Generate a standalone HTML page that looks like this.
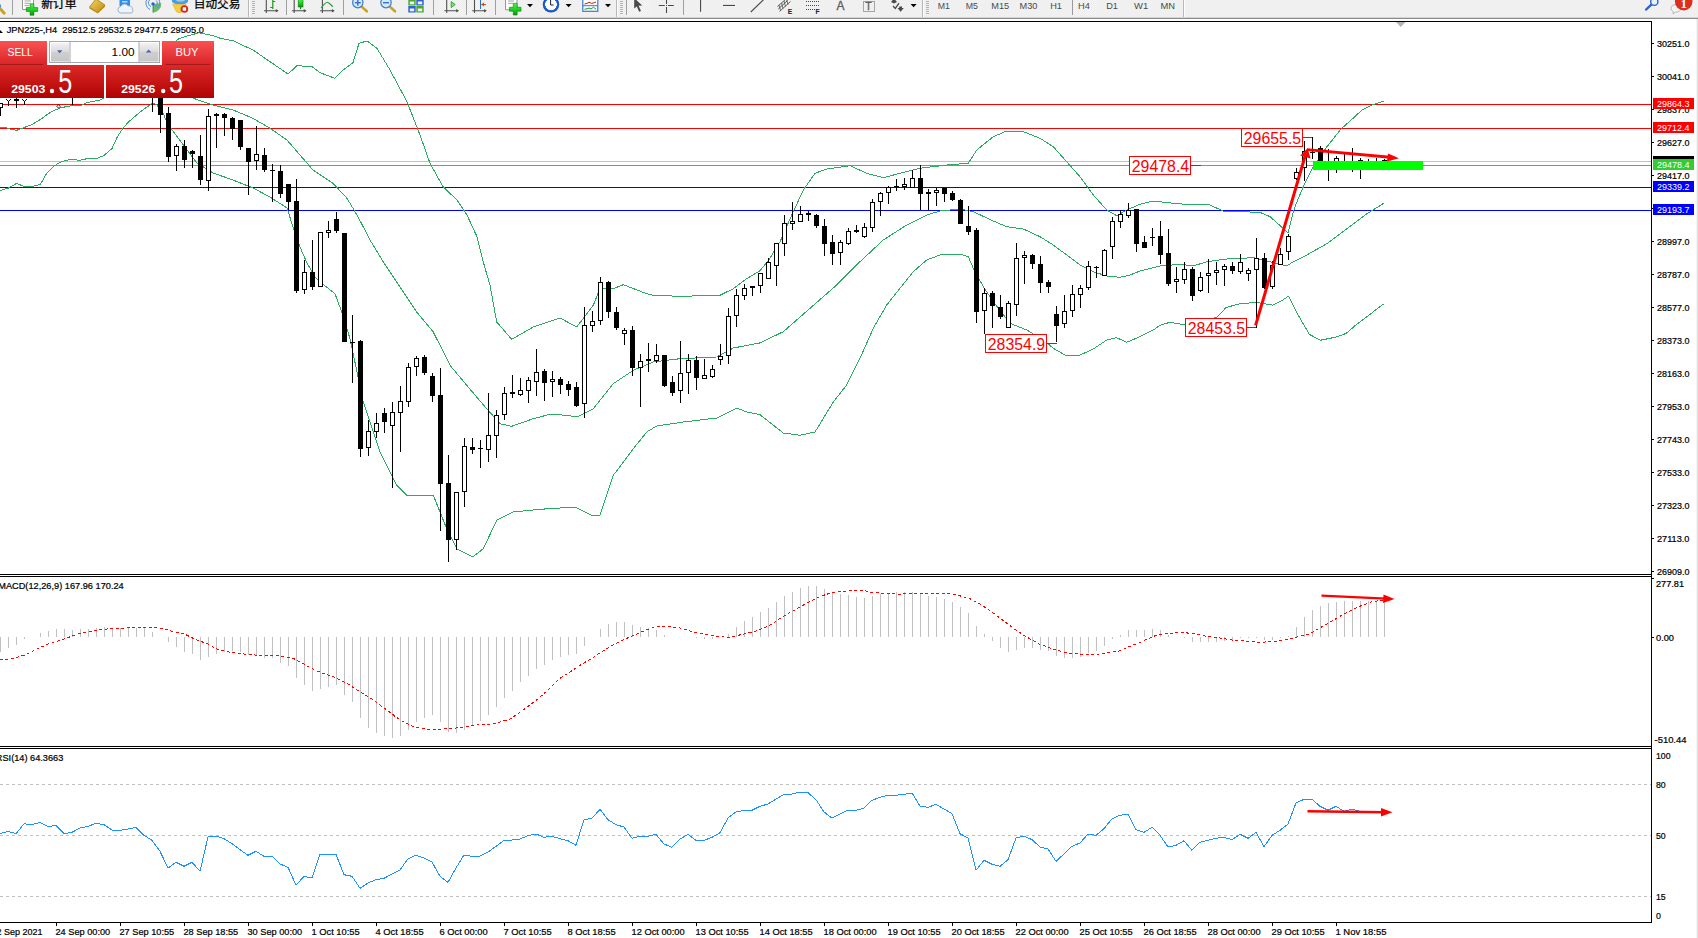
<!DOCTYPE html>
<html lang="zh"><head><meta charset="utf-8"><title>JPN225 H4</title>
<style>html,body{margin:0;padding:0;background:#fff;overflow:hidden}svg{display:block}text{white-space:pre}</style></head>
<body><svg width="1698" height="938" viewBox="0 0 1698 938">
<defs>
<linearGradient id="gBtn" x1="0" y1="0" x2="0" y2="1"><stop offset="0" stop-color="#f95252"/><stop offset="1" stop-color="#d92427"/></linearGradient>
<linearGradient id="gBox" x1="0" y1="0" x2="0" y2="1"><stop offset="0" stop-color="#dc2828"/><stop offset="1" stop-color="#b00303"/></linearGradient>
<linearGradient id="gSpin" x1="0" y1="0" x2="0" y2="1"><stop offset="0" stop-color="#f2f2f2"/><stop offset="0.45" stop-color="#dcdcdc"/><stop offset="0.5" stop-color="#cfcfcf"/><stop offset="1" stop-color="#c6c6c6"/></linearGradient>
<clipPath id="cMain"><rect x="0" y="22" width="1651" height="552"/></clipPath>
<clipPath id="cMacd"><rect x="0" y="577" width="1651" height="169"/></clipPath>
<clipPath id="cRsi"><rect x="0" y="749" width="1651" height="173"/></clipPath>
</defs>
<rect x="0" y="0" width="1698" height="938" fill="#fff" />
<g clip-path="url(#cMain)">
<g shape-rendering="crispEdges">
<rect x="0" y="104" width="1651" height="1" fill="#ff0000" />
<rect x="0" y="128" width="1651" height="1" fill="#ff0000" />
<rect x="0" y="161" width="1651" height="1" fill="#c0c0c0" />
<rect x="0" y="165" width="1651" height="1" fill="#32cd32" />
<rect x="0" y="187" width="1651" height="1" fill="#0000ff" />
<rect x="0" y="210" width="1651" height="1" fill="#0000ff" />
</g>
<polyline points="176.0,41.0 179.0,38.6 189.0,35.5 198.9,32.8 213.0,35.7 220.0,38.2 233.0,40.7 253.0,50.0 270.0,61.7 288.0,74.0 297.0,65.7 312.0,66.7 320.0,72.7 335.0,78.3 343.0,70.0 353.0,62.7 359.0,43.3 367.0,41.0 377.0,48.3 390.0,70.0 407.0,101.7 420.0,135.0 430.0,163.3 443.0,186.7 457.0,200.0 467.0,215.0 477.0,236.7 483.3,262.0 490.0,285.3 496.7,322.0 511.7,339.3 533.3,327.0 560.0,318.0 576.7,327.0 593.3,305.3 600.0,288.7 613.3,288.7 623.3,284.7 646.7,293.7 653.3,295.3 680.0,296.3 720.0,295.3 733.3,288.7 746.7,278.7 760.0,270.8 770.0,258.3 780.0,241.7 793.3,211.7 803.3,190.0 815.0,173.3 826.7,169.0 850.0,165.7 866.7,173.3 883.3,177.7 900.0,173.3 920.0,168.3 946.7,165.0 968.3,163.3 976.7,150.0 993.3,136.7 1006.7,131.0 1023.3,131.7 1040.0,138.3 1053.3,146.7 1066.7,161.7 1080.0,176.7 1093.3,195.0 1106.7,210.0 1116.7,215.7 1126.7,210.0 1140.0,204.3 1153.3,201.0 1173.3,203.3 1193.3,205.0 1209.0,204.6 1223.7,211.2 1260.0,212.3 1270.0,216.7 1282.6,227.9 1288.0,233.0 1293.3,211.7 1297.3,200.9 1304.6,183.7 1312.0,169.0 1326.7,147.0 1341.4,128.6 1351.2,120.0 1362.0,110.0 1372.0,105.0 1383.6,101.0" fill="none" stroke="#2aaa62" stroke-width="1" shape-rendering="crispEdges"/>
<polyline points="0.0,127.2 4.8,127.2 10.7,129.1 16.5,130.4 24.5,127.4 32.0,124.5 40.5,119.5 46.9,114.6 53.3,110.7 59.7,108.2 66.1,106.6 74.6,105.3 82.1,105.0 85.3,103.2 92.8,101.4 99.7,100.0 104.0,98.0" fill="none" stroke="#2aaa62" stroke-width="1" shape-rendering="crispEdges"/>
<polyline points="193.0,98.0 198.0,100.0 213.0,105.0 233.0,110.0 253.0,118.3 270.0,128.3 287.0,140.0 300.0,155.0 313.0,170.0 333.0,183.3 347.0,198.3 358.0,216.7 370.0,240.0 383.3,262.0 400.0,287.0 416.7,312.0 433.3,332.0 450.0,365.3 466.7,385.3 486.7,408.7 500.0,423.7 511.7,426.3 533.3,418.7 550.0,414.3 566.7,415.3 576.7,417.0 593.3,408.7 613.3,383.7 633.3,370.3 653.3,362.0 680.0,358.7 716.7,357.0 733.3,348.0 760.0,342.9 783.3,331.7 810.0,308.3 836.7,285.0 860.0,261.7 883.3,240.0 906.7,225.0 926.7,215.0 940.0,211.0 960.0,209.0 973.3,211.7 993.3,221.0 1006.7,226.7 1023.3,229.0 1040.0,236.7 1053.3,245.0 1066.7,255.0 1080.0,265.0 1093.3,271.7 1106.7,276.0 1120.0,277.3 1130.0,275.0 1140.0,271.0 1160.0,266.0 1180.0,264.3 1193.3,266.0 1206.7,261.7 1226.7,259.0 1253.3,257.7 1270.0,261.7 1283.3,265.0 1287.5,265.4 1293.3,261.7 1307.1,254.8 1326.7,243.8 1346.3,229.1 1365.9,214.4 1383.6,203.4" fill="none" stroke="#2aaa62" stroke-width="1" shape-rendering="crispEdges"/>
<polyline points="0.0,190.6 8.5,188.0 16.5,183.4 24.0,186.4 33.0,186.4 40.5,184.2 46.9,173.0 53.3,166.6 59.7,162.4 66.1,160.2 74.6,159.4 78.9,160.4 87.4,158.6 97.5,158.3 104.0,155.4 112.0,148.5 117.3,136.8 122.6,128.8 128.0,122.4 138.6,113.3 149.3,105.3 152.5,103.2 156.7,104.8 163.1,112.8 165.8,119.7 171.6,129.3 180.0,140.5 187.0,150.0 197.0,163.0 213.0,173.0 233.0,180.0 253.0,188.0 270.0,197.0 287.0,208.0 293.0,227.0 300.0,247.0 307.0,263.0 315.0,277.0 320.0,282.0 335.0,293.7 341.7,312.0 350.0,338.7 363.3,402.0 380.0,452.0 396.7,485.3 406.7,495.3 433.3,495.3 446.7,528.7 456.7,548.7 472.7,557.0 483.3,548.7 496.7,520.3 513.3,512.0 540.0,509.3 575.0,507.0 593.3,516.0 600.0,515.3 613.3,475.3 633.3,448.7 646.7,432.0 656.7,426.0 683.3,422.0 716.7,418.0 736.7,408.0 746.7,412.0 760.0,414.7 783.3,433.0 800.0,435.3 815.0,432.0 833.3,402.0 846.7,385.0 860.0,358.3 873.3,328.3 886.7,305.0 900.0,288.3 913.3,271.7 926.7,260.0 940.0,255.0 960.0,254.0 968.3,256.7 973.3,268.3 983.3,286.7 993.3,301.7 1010.0,323.3 1026.7,330.0 1043.3,340.0 1053.3,348.3 1065.0,355.0 1080.0,355.0 1093.3,349.0 1106.7,340.0 1116.7,337.7 1126.7,342.3 1140.0,336.7 1153.3,330.0 1160.0,325.4 1169.8,322.3 1184.5,324.7 1216.4,317.4 1226.2,307.5 1240.9,303.4 1258.0,302.6 1272.8,305.1 1282.6,300.2 1288.7,296.0 1297.3,313.7 1309.5,334.5 1320.6,340.2 1336.5,337.0 1346.3,333.3 1356.1,324.7 1370.8,313.7 1383.6,303.9" fill="none" stroke="#2aaa62" stroke-width="1" shape-rendering="crispEdges"/>
<g shape-rendering="crispEdges">
<rect x="0" y="103" width="1" height="13" fill="#000" />
<rect x="-2" y="103" width="5" height="5" fill="#000" />
<rect x="-1" y="104" width="3" height="3" fill="#fff" />
<rect x="8" y="101" width="1" height="5" fill="#000" />
<rect x="6" y="99" width="1" height="1" fill="#000" />
<rect x="10" y="99" width="1" height="1" fill="#000" />
<rect x="7" y="100" width="1" height="1" fill="#000" />
<rect x="9" y="100" width="1" height="1" fill="#000" />
<rect x="16" y="98" width="1" height="10" fill="#000" />
<rect x="14" y="99" width="5" height="2" fill="#000" />
<rect x="24" y="101" width="1" height="4" fill="#000" />
<rect x="22" y="99" width="1" height="1" fill="#000" />
<rect x="26" y="99" width="1" height="1" fill="#000" />
<rect x="23" y="100" width="1" height="1" fill="#000" />
<rect x="25" y="100" width="1" height="1" fill="#000" />
<rect x="72" y="98" width="1" height="7" fill="#000" />
<rect x="70" y="90" width="5" height="1" fill="#000" />
<rect x="152" y="98" width="1" height="14" fill="#000" />
<rect x="150" y="90" width="5" height="1" fill="#000" />
<rect x="160" y="90" width="1" height="43" fill="#000" />
<rect x="158" y="90" width="5" height="25" fill="#000" />
<rect x="168" y="107" width="1" height="55" fill="#000" />
<rect x="166" y="113" width="5" height="44" fill="#000" />
<rect x="176" y="144" width="1" height="27" fill="#000" />
<rect x="174" y="146" width="5" height="10" fill="#000" />
<rect x="175" y="147" width="3" height="8" fill="#fff" />
<rect x="184" y="140" width="1" height="28" fill="#000" />
<rect x="182" y="146" width="5" height="14" fill="#000" />
<rect x="192" y="150" width="1" height="18" fill="#000" />
<rect x="190" y="151" width="5" height="3" fill="#000" />
<rect x="200" y="135" width="1" height="50" fill="#000" />
<rect x="198" y="156" width="5" height="24" fill="#000" />
<rect x="208" y="109" width="1" height="82" fill="#000" />
<rect x="206" y="116" width="5" height="65" fill="#000" />
<rect x="207" y="117" width="3" height="63" fill="#fff" />
<rect x="216" y="113" width="1" height="35" fill="#000" />
<rect x="214" y="114" width="5" height="2" fill="#000" />
<rect x="224" y="113" width="1" height="23" fill="#000" />
<rect x="222" y="114" width="5" height="4" fill="#000" />
<rect x="232" y="117" width="1" height="23" fill="#000" />
<rect x="230" y="118" width="5" height="11" fill="#000" />
<rect x="240" y="120" width="1" height="30" fill="#000" />
<rect x="238" y="120" width="5" height="27" fill="#000" />
<rect x="248" y="148" width="1" height="47" fill="#000" />
<rect x="246" y="148" width="5" height="14" fill="#000" />
<rect x="256" y="126" width="1" height="44" fill="#000" />
<rect x="254" y="154" width="5" height="7" fill="#000" />
<rect x="255" y="155" width="3" height="5" fill="#fff" />
<rect x="264" y="148" width="1" height="24" fill="#000" />
<rect x="262" y="155" width="5" height="15" fill="#000" />
<rect x="272" y="164" width="1" height="38" fill="#000" />
<rect x="270" y="170" width="5" height="1" fill="#000" />
<rect x="280" y="165" width="1" height="33" fill="#000" />
<rect x="278" y="171" width="5" height="23" fill="#000" />
<rect x="288" y="184" width="1" height="26" fill="#000" />
<rect x="286" y="184" width="5" height="18" fill="#000" />
<rect x="296" y="179" width="1" height="114" fill="#000" />
<rect x="294" y="201" width="5" height="90" fill="#000" />
<rect x="304" y="260" width="1" height="34" fill="#000" />
<rect x="302" y="272" width="5" height="18" fill="#000" />
<rect x="303" y="273" width="3" height="16" fill="#fff" />
<rect x="312" y="240" width="1" height="50" fill="#000" />
<rect x="310" y="272" width="5" height="15" fill="#000" />
<rect x="320" y="232" width="1" height="55" fill="#000" />
<rect x="318" y="232" width="5" height="55" fill="#000" />
<rect x="319" y="233" width="3" height="53" fill="#fff" />
<rect x="328" y="221" width="1" height="17" fill="#000" />
<rect x="326" y="230" width="5" height="3" fill="#000" />
<rect x="327" y="231" width="3" height="1" fill="#fff" />
<rect x="336" y="212" width="1" height="21" fill="#000" />
<rect x="334" y="219" width="5" height="12" fill="#000" />
<rect x="344" y="233" width="1" height="109" fill="#000" />
<rect x="342" y="233" width="5" height="109" fill="#000" />
<rect x="352" y="315" width="1" height="68" fill="#000" />
<rect x="350" y="342" width="5" height="1" fill="#000" />
<rect x="360" y="340" width="1" height="117" fill="#000" />
<rect x="358" y="341" width="5" height="108" fill="#000" />
<rect x="368" y="420" width="1" height="36" fill="#000" />
<rect x="366" y="431" width="5" height="17" fill="#000" />
<rect x="367" y="432" width="3" height="15" fill="#fff" />
<rect x="376" y="413" width="1" height="25" fill="#000" />
<rect x="374" y="423" width="5" height="9" fill="#000" />
<rect x="375" y="424" width="3" height="7" fill="#fff" />
<rect x="384" y="408" width="1" height="25" fill="#000" />
<rect x="382" y="413" width="5" height="9" fill="#000" />
<rect x="392" y="402" width="1" height="86" fill="#000" />
<rect x="390" y="412" width="5" height="14" fill="#000" />
<rect x="391" y="413" width="3" height="12" fill="#fff" />
<rect x="400" y="386" width="1" height="66" fill="#000" />
<rect x="398" y="401" width="5" height="12" fill="#000" />
<rect x="399" y="402" width="3" height="10" fill="#fff" />
<rect x="408" y="363" width="1" height="44" fill="#000" />
<rect x="406" y="367" width="5" height="35" fill="#000" />
<rect x="407" y="368" width="3" height="33" fill="#fff" />
<rect x="416" y="356" width="1" height="20" fill="#000" />
<rect x="414" y="358" width="5" height="9" fill="#000" />
<rect x="415" y="359" width="3" height="7" fill="#fff" />
<rect x="424" y="355" width="1" height="20" fill="#000" />
<rect x="422" y="357" width="5" height="16" fill="#000" />
<rect x="432" y="373" width="1" height="29" fill="#000" />
<rect x="430" y="376" width="5" height="20" fill="#000" />
<rect x="440" y="368" width="1" height="163" fill="#000" />
<rect x="438" y="395" width="5" height="89" fill="#000" />
<rect x="448" y="455" width="1" height="107" fill="#000" />
<rect x="446" y="483" width="5" height="57" fill="#000" />
<rect x="456" y="492" width="1" height="58" fill="#000" />
<rect x="454" y="492" width="5" height="48" fill="#000" />
<rect x="455" y="493" width="3" height="46" fill="#fff" />
<rect x="464" y="438" width="1" height="69" fill="#000" />
<rect x="462" y="446" width="5" height="46" fill="#000" />
<rect x="463" y="447" width="3" height="44" fill="#fff" />
<rect x="472" y="438" width="1" height="16" fill="#000" />
<rect x="470" y="447" width="5" height="3" fill="#000" />
<rect x="480" y="440" width="1" height="28" fill="#000" />
<rect x="478" y="448" width="5" height="1" fill="#000" />
<rect x="488" y="393" width="1" height="69" fill="#000" />
<rect x="486" y="435" width="5" height="15" fill="#000" />
<rect x="487" y="436" width="3" height="13" fill="#fff" />
<rect x="496" y="410" width="1" height="48" fill="#000" />
<rect x="494" y="415" width="5" height="21" fill="#000" />
<rect x="495" y="416" width="3" height="19" fill="#fff" />
<rect x="504" y="387" width="1" height="33" fill="#000" />
<rect x="502" y="393" width="5" height="22" fill="#000" />
<rect x="503" y="394" width="3" height="20" fill="#fff" />
<rect x="512" y="375" width="1" height="23" fill="#000" />
<rect x="510" y="392" width="5" height="2" fill="#000" />
<rect x="520" y="378" width="1" height="18" fill="#000" />
<rect x="518" y="390" width="5" height="5" fill="#000" />
<rect x="519" y="391" width="3" height="3" fill="#fff" />
<rect x="528" y="377" width="1" height="26" fill="#000" />
<rect x="526" y="380" width="5" height="11" fill="#000" />
<rect x="527" y="381" width="3" height="9" fill="#fff" />
<rect x="536" y="349" width="1" height="47" fill="#000" />
<rect x="534" y="372" width="5" height="10" fill="#000" />
<rect x="535" y="373" width="3" height="8" fill="#fff" />
<rect x="544" y="369" width="1" height="32" fill="#000" />
<rect x="542" y="371" width="5" height="12" fill="#000" />
<rect x="552" y="371" width="1" height="26" fill="#000" />
<rect x="550" y="379" width="5" height="3" fill="#000" />
<rect x="551" y="380" width="3" height="1" fill="#fff" />
<rect x="560" y="377" width="1" height="17" fill="#000" />
<rect x="558" y="379" width="5" height="6" fill="#000" />
<rect x="568" y="381" width="1" height="15" fill="#000" />
<rect x="566" y="384" width="5" height="6" fill="#000" />
<rect x="576" y="382" width="1" height="25" fill="#000" />
<rect x="574" y="387" width="5" height="19" fill="#000" />
<rect x="584" y="307" width="1" height="111" fill="#000" />
<rect x="582" y="325" width="5" height="79" fill="#000" />
<rect x="583" y="326" width="3" height="77" fill="#fff" />
<rect x="592" y="311" width="1" height="21" fill="#000" />
<rect x="590" y="321" width="5" height="5" fill="#000" />
<rect x="591" y="322" width="3" height="3" fill="#fff" />
<rect x="600" y="277" width="1" height="48" fill="#000" />
<rect x="598" y="282" width="5" height="39" fill="#000" />
<rect x="599" y="283" width="3" height="37" fill="#fff" />
<rect x="608" y="281" width="1" height="37" fill="#000" />
<rect x="606" y="282" width="5" height="30" fill="#000" />
<rect x="616" y="307" width="1" height="23" fill="#000" />
<rect x="614" y="312" width="5" height="16" fill="#000" />
<rect x="624" y="328" width="1" height="17" fill="#000" />
<rect x="622" y="330" width="5" height="4" fill="#000" />
<rect x="623" y="331" width="3" height="2" fill="#fff" />
<rect x="632" y="326" width="1" height="50" fill="#000" />
<rect x="630" y="330" width="5" height="38" fill="#000" />
<rect x="640" y="354" width="1" height="53" fill="#000" />
<rect x="638" y="361" width="5" height="7" fill="#000" />
<rect x="639" y="362" width="3" height="5" fill="#fff" />
<rect x="648" y="343" width="1" height="29" fill="#000" />
<rect x="646" y="359" width="5" height="2" fill="#000" />
<rect x="656" y="344" width="1" height="19" fill="#000" />
<rect x="654" y="355" width="5" height="6" fill="#000" />
<rect x="655" y="356" width="3" height="4" fill="#fff" />
<rect x="664" y="355" width="1" height="32" fill="#000" />
<rect x="662" y="355" width="5" height="31" fill="#000" />
<rect x="672" y="376" width="1" height="20" fill="#000" />
<rect x="670" y="382" width="5" height="11" fill="#000" />
<rect x="680" y="341" width="1" height="62" fill="#000" />
<rect x="678" y="373" width="5" height="18" fill="#000" />
<rect x="679" y="374" width="3" height="16" fill="#fff" />
<rect x="688" y="354" width="1" height="40" fill="#000" />
<rect x="686" y="360" width="5" height="13" fill="#000" />
<rect x="687" y="361" width="3" height="11" fill="#fff" />
<rect x="696" y="356" width="1" height="34" fill="#000" />
<rect x="694" y="360" width="5" height="18" fill="#000" />
<rect x="704" y="359" width="1" height="20" fill="#000" />
<rect x="702" y="375" width="5" height="4" fill="#000" />
<rect x="703" y="376" width="3" height="2" fill="#fff" />
<rect x="712" y="365" width="1" height="13" fill="#000" />
<rect x="710" y="369" width="5" height="8" fill="#000" />
<rect x="711" y="370" width="3" height="6" fill="#fff" />
<rect x="720" y="344" width="1" height="21" fill="#000" />
<rect x="718" y="356" width="5" height="4" fill="#000" />
<rect x="719" y="357" width="3" height="2" fill="#fff" />
<rect x="728" y="308" width="1" height="56" fill="#000" />
<rect x="726" y="316" width="5" height="40" fill="#000" />
<rect x="727" y="317" width="3" height="38" fill="#fff" />
<rect x="736" y="289" width="1" height="38" fill="#000" />
<rect x="734" y="295" width="5" height="21" fill="#000" />
<rect x="735" y="296" width="3" height="19" fill="#fff" />
<rect x="744" y="284" width="1" height="16" fill="#000" />
<rect x="742" y="288" width="5" height="8" fill="#000" />
<rect x="743" y="289" width="3" height="6" fill="#fff" />
<rect x="752" y="286" width="1" height="10" fill="#000" />
<rect x="750" y="286" width="5" height="2" fill="#000" />
<rect x="760" y="273" width="1" height="20" fill="#000" />
<rect x="758" y="273" width="5" height="13" fill="#000" />
<rect x="759" y="274" width="3" height="11" fill="#fff" />
<rect x="768" y="258" width="1" height="21" fill="#000" />
<rect x="766" y="262" width="5" height="17" fill="#000" />
<rect x="767" y="263" width="3" height="15" fill="#fff" />
<rect x="776" y="243" width="1" height="43" fill="#000" />
<rect x="774" y="243" width="5" height="23" fill="#000" />
<rect x="775" y="244" width="3" height="21" fill="#fff" />
<rect x="784" y="215" width="1" height="41" fill="#000" />
<rect x="782" y="223" width="5" height="21" fill="#000" />
<rect x="783" y="224" width="3" height="19" fill="#fff" />
<rect x="792" y="202" width="1" height="28" fill="#000" />
<rect x="790" y="221" width="5" height="3" fill="#000" />
<rect x="791" y="222" width="3" height="1" fill="#fff" />
<rect x="800" y="206" width="1" height="16" fill="#000" />
<rect x="798" y="214" width="5" height="8" fill="#000" />
<rect x="799" y="215" width="3" height="6" fill="#fff" />
<rect x="808" y="211" width="1" height="10" fill="#000" />
<rect x="806" y="213" width="5" height="2" fill="#000" />
<rect x="816" y="214" width="1" height="14" fill="#000" />
<rect x="814" y="215" width="5" height="11" fill="#000" />
<rect x="824" y="219" width="1" height="37" fill="#000" />
<rect x="822" y="226" width="5" height="18" fill="#000" />
<rect x="832" y="235" width="1" height="30" fill="#000" />
<rect x="830" y="242" width="5" height="12" fill="#000" />
<rect x="840" y="240" width="1" height="25" fill="#000" />
<rect x="838" y="242" width="5" height="11" fill="#000" />
<rect x="839" y="243" width="3" height="9" fill="#fff" />
<rect x="848" y="228" width="1" height="17" fill="#000" />
<rect x="846" y="231" width="5" height="13" fill="#000" />
<rect x="847" y="232" width="3" height="11" fill="#fff" />
<rect x="856" y="225" width="1" height="8" fill="#000" />
<rect x="854" y="230" width="5" height="2" fill="#000" />
<rect x="864" y="223" width="1" height="15" fill="#000" />
<rect x="862" y="227" width="5" height="10" fill="#000" />
<rect x="863" y="228" width="3" height="8" fill="#fff" />
<rect x="872" y="199" width="1" height="33" fill="#000" />
<rect x="870" y="202" width="5" height="26" fill="#000" />
<rect x="871" y="203" width="3" height="24" fill="#fff" />
<rect x="880" y="192" width="1" height="24" fill="#000" />
<rect x="878" y="193" width="5" height="9" fill="#000" />
<rect x="879" y="194" width="3" height="7" fill="#fff" />
<rect x="888" y="186" width="1" height="18" fill="#000" />
<rect x="886" y="187" width="5" height="6" fill="#000" />
<rect x="887" y="188" width="3" height="4" fill="#fff" />
<rect x="896" y="179" width="1" height="12" fill="#000" />
<rect x="894" y="186" width="5" height="1" fill="#000" />
<rect x="904" y="178" width="1" height="12" fill="#000" />
<rect x="902" y="184" width="5" height="3" fill="#000" />
<rect x="903" y="185" width="3" height="1" fill="#fff" />
<rect x="912" y="170" width="1" height="18" fill="#000" />
<rect x="910" y="178" width="5" height="10" fill="#000" />
<rect x="911" y="179" width="3" height="8" fill="#fff" />
<rect x="920" y="165" width="1" height="45" fill="#000" />
<rect x="918" y="178" width="5" height="16" fill="#000" />
<rect x="928" y="189" width="1" height="21" fill="#000" />
<rect x="926" y="192" width="5" height="2" fill="#000" />
<rect x="936" y="188" width="1" height="18" fill="#000" />
<rect x="934" y="190" width="5" height="3" fill="#000" />
<rect x="935" y="191" width="3" height="1" fill="#fff" />
<rect x="944" y="188" width="1" height="14" fill="#000" />
<rect x="942" y="188" width="5" height="6" fill="#000" />
<rect x="952" y="191" width="1" height="10" fill="#000" />
<rect x="950" y="193" width="5" height="7" fill="#000" />
<rect x="960" y="199" width="1" height="25" fill="#000" />
<rect x="958" y="200" width="5" height="24" fill="#000" />
<rect x="968" y="206" width="1" height="29" fill="#000" />
<rect x="966" y="226" width="5" height="6" fill="#000" />
<rect x="976" y="228" width="1" height="95" fill="#000" />
<rect x="974" y="230" width="5" height="82" fill="#000" />
<rect x="984" y="288" width="1" height="46" fill="#000" />
<rect x="982" y="293" width="5" height="18" fill="#000" />
<rect x="983" y="294" width="3" height="16" fill="#fff" />
<rect x="992" y="291" width="1" height="37" fill="#000" />
<rect x="990" y="293" width="5" height="13" fill="#000" />
<rect x="1000" y="295" width="1" height="24" fill="#000" />
<rect x="998" y="307" width="5" height="10" fill="#000" />
<rect x="1008" y="301" width="1" height="27" fill="#000" />
<rect x="1006" y="303" width="5" height="25" fill="#000" />
<rect x="1007" y="304" width="3" height="23" fill="#fff" />
<rect x="1016" y="243" width="1" height="73" fill="#000" />
<rect x="1014" y="258" width="5" height="47" fill="#000" />
<rect x="1015" y="259" width="3" height="45" fill="#fff" />
<rect x="1024" y="251" width="1" height="33" fill="#000" />
<rect x="1022" y="255" width="5" height="3" fill="#000" />
<rect x="1023" y="256" width="3" height="1" fill="#fff" />
<rect x="1032" y="254" width="1" height="15" fill="#000" />
<rect x="1030" y="255" width="5" height="9" fill="#000" />
<rect x="1040" y="256" width="1" height="37" fill="#000" />
<rect x="1038" y="264" width="5" height="19" fill="#000" />
<rect x="1048" y="280" width="1" height="13" fill="#000" />
<rect x="1046" y="282" width="5" height="5" fill="#000" />
<rect x="1056" y="306" width="1" height="36" fill="#000" />
<rect x="1054" y="314" width="5" height="12" fill="#000" />
<rect x="1064" y="295" width="1" height="33" fill="#000" />
<rect x="1062" y="311" width="5" height="13" fill="#000" />
<rect x="1063" y="312" width="3" height="11" fill="#fff" />
<rect x="1072" y="285" width="1" height="32" fill="#000" />
<rect x="1070" y="294" width="5" height="17" fill="#000" />
<rect x="1071" y="295" width="3" height="15" fill="#fff" />
<rect x="1080" y="285" width="1" height="23" fill="#000" />
<rect x="1078" y="288" width="5" height="7" fill="#000" />
<rect x="1079" y="289" width="3" height="5" fill="#fff" />
<rect x="1088" y="261" width="1" height="29" fill="#000" />
<rect x="1086" y="266" width="5" height="22" fill="#000" />
<rect x="1087" y="267" width="3" height="20" fill="#fff" />
<rect x="1096" y="266" width="1" height="12" fill="#000" />
<rect x="1094" y="267" width="5" height="1" fill="#000" />
<rect x="1104" y="249" width="1" height="27" fill="#000" />
<rect x="1102" y="250" width="5" height="26" fill="#000" />
<rect x="1103" y="251" width="3" height="24" fill="#fff" />
<rect x="1112" y="217" width="1" height="42" fill="#000" />
<rect x="1110" y="221" width="5" height="26" fill="#000" />
<rect x="1111" y="222" width="3" height="24" fill="#fff" />
<rect x="1120" y="210" width="1" height="18" fill="#000" />
<rect x="1118" y="214" width="5" height="8" fill="#000" />
<rect x="1119" y="215" width="3" height="6" fill="#fff" />
<rect x="1128" y="203" width="1" height="15" fill="#000" />
<rect x="1126" y="210" width="5" height="6" fill="#000" />
<rect x="1127" y="211" width="3" height="4" fill="#fff" />
<rect x="1136" y="209" width="1" height="43" fill="#000" />
<rect x="1134" y="209" width="5" height="35" fill="#000" />
<rect x="1144" y="236" width="1" height="12" fill="#000" />
<rect x="1142" y="242" width="5" height="6" fill="#000" />
<rect x="1152" y="228" width="1" height="18" fill="#000" />
<rect x="1150" y="237" width="5" height="1" fill="#000" />
<rect x="1160" y="221" width="1" height="43" fill="#000" />
<rect x="1158" y="236" width="5" height="19" fill="#000" />
<rect x="1168" y="229" width="1" height="57" fill="#000" />
<rect x="1166" y="253" width="5" height="31" fill="#000" />
<rect x="1176" y="267" width="1" height="26" fill="#000" />
<rect x="1174" y="279" width="5" height="3" fill="#000" />
<rect x="1175" y="280" width="3" height="1" fill="#fff" />
<rect x="1184" y="262" width="1" height="22" fill="#000" />
<rect x="1182" y="269" width="5" height="11" fill="#000" />
<rect x="1183" y="270" width="3" height="9" fill="#fff" />
<rect x="1192" y="267" width="1" height="34" fill="#000" />
<rect x="1190" y="269" width="5" height="27" fill="#000" />
<rect x="1200" y="272" width="1" height="20" fill="#000" />
<rect x="1198" y="277" width="5" height="14" fill="#000" />
<rect x="1199" y="278" width="3" height="12" fill="#fff" />
<rect x="1208" y="259" width="1" height="34" fill="#000" />
<rect x="1206" y="273" width="5" height="3" fill="#000" />
<rect x="1207" y="274" width="3" height="1" fill="#fff" />
<rect x="1216" y="262" width="1" height="23" fill="#000" />
<rect x="1214" y="270" width="5" height="3" fill="#000" />
<rect x="1215" y="271" width="3" height="1" fill="#fff" />
<rect x="1224" y="264" width="1" height="22" fill="#000" />
<rect x="1222" y="266" width="5" height="4" fill="#000" />
<rect x="1223" y="267" width="3" height="2" fill="#fff" />
<rect x="1232" y="262" width="1" height="12" fill="#000" />
<rect x="1230" y="266" width="5" height="5" fill="#000" />
<rect x="1240" y="254" width="1" height="20" fill="#000" />
<rect x="1238" y="262" width="5" height="10" fill="#000" />
<rect x="1239" y="263" width="3" height="8" fill="#fff" />
<rect x="1248" y="268" width="1" height="13" fill="#000" />
<rect x="1246" y="270" width="5" height="4" fill="#000" />
<rect x="1247" y="271" width="3" height="2" fill="#fff" />
<rect x="1256" y="238" width="1" height="90" fill="#000" />
<rect x="1254" y="258" width="5" height="12" fill="#000" />
<rect x="1255" y="259" width="3" height="10" fill="#fff" />
<rect x="1264" y="253" width="1" height="36" fill="#000" />
<rect x="1262" y="258" width="5" height="30" fill="#000" />
<rect x="1272" y="261" width="1" height="28" fill="#000" />
<rect x="1270" y="265" width="5" height="22" fill="#000" />
<rect x="1271" y="266" width="3" height="20" fill="#fff" />
<rect x="1280" y="248" width="1" height="17" fill="#000" />
<rect x="1278" y="254" width="5" height="11" fill="#000" />
<rect x="1279" y="255" width="3" height="9" fill="#fff" />
<rect x="1288" y="234" width="1" height="26" fill="#000" />
<rect x="1286" y="236" width="5" height="16" fill="#000" />
<rect x="1287" y="237" width="3" height="14" fill="#fff" />
<rect x="1296" y="168" width="1" height="12" fill="#000" />
<rect x="1294" y="172" width="5" height="7" fill="#000" />
<rect x="1295" y="173" width="3" height="5" fill="#fff" />
<rect x="1304" y="141" width="1" height="40" fill="#000" />
<rect x="1302" y="151" width="5" height="17" fill="#000" />
<rect x="1303" y="152" width="3" height="15" fill="#fff" />
<rect x="1312" y="137" width="1" height="22" fill="#000" />
<rect x="1310" y="152" width="5" height="1" fill="#000" />
<rect x="1320" y="146" width="1" height="23" fill="#000" />
<rect x="1318" y="148" width="5" height="18" fill="#000" />
<rect x="1328" y="149" width="1" height="32" fill="#000" />
<rect x="1326" y="164" width="5" height="1" fill="#000" />
<rect x="1336" y="156" width="1" height="17" fill="#000" />
<rect x="1334" y="158" width="5" height="6" fill="#000" />
<rect x="1335" y="159" width="3" height="4" fill="#fff" />
<rect x="1344" y="152" width="1" height="17" fill="#000" />
<rect x="1342" y="163" width="5" height="1" fill="#000" />
<rect x="1352" y="148" width="1" height="24" fill="#000" />
<rect x="1350" y="164" width="5" height="1" fill="#000" />
<rect x="1360" y="158" width="1" height="21" fill="#000" />
<rect x="1358" y="160" width="5" height="1" fill="#000" />
<rect x="1368" y="159" width="1" height="7" fill="#000" />
<rect x="1366" y="163" width="5" height="1" fill="#000" />
<rect x="1376" y="158" width="1" height="7" fill="#000" />
<rect x="1374" y="163" width="5" height="1" fill="#000" />
<rect x="1384" y="159" width="1" height="4" fill="#000" />
<rect x="1382" y="160" width="5" height="1" fill="#000" />
</g>
<path d="M58.5,104.6 L60.2,106.4 L58.5,108.2 L56.8,106.4 Z" fill="none" stroke="#000" stroke-width="0.8"/>
</g>
<g clip-path="url(#cMacd)">
<g shape-rendering="crispEdges">
<rect x="0" y="637" width="1" height="15" fill="#c0c0c0" />
<rect x="8" y="637" width="1" height="11" fill="#c0c0c0" />
<rect x="16" y="637" width="1" height="8" fill="#c0c0c0" />
<rect x="24" y="637" width="1" height="2" fill="#c0c0c0" />
<rect x="40" y="633" width="1" height="4" fill="#c0c0c0" />
<rect x="48" y="631" width="1" height="6" fill="#c0c0c0" />
<rect x="56" y="629" width="1" height="8" fill="#c0c0c0" />
<rect x="64" y="629" width="1" height="8" fill="#c0c0c0" />
<rect x="72" y="630" width="1" height="7" fill="#c0c0c0" />
<rect x="80" y="629" width="1" height="8" fill="#c0c0c0" />
<rect x="88" y="629" width="1" height="8" fill="#c0c0c0" />
<rect x="96" y="628" width="1" height="9" fill="#c0c0c0" />
<rect x="104" y="627" width="1" height="10" fill="#c0c0c0" />
<rect x="112" y="628" width="1" height="9" fill="#c0c0c0" />
<rect x="120" y="628" width="1" height="9" fill="#c0c0c0" />
<rect x="128" y="628" width="1" height="9" fill="#c0c0c0" />
<rect x="136" y="628" width="1" height="9" fill="#c0c0c0" />
<rect x="144" y="628" width="1" height="9" fill="#c0c0c0" />
<rect x="152" y="632" width="1" height="5" fill="#c0c0c0" />
<rect x="168" y="637" width="1" height="5" fill="#c0c0c0" />
<rect x="176" y="637" width="1" height="10" fill="#c0c0c0" />
<rect x="184" y="637" width="1" height="15" fill="#c0c0c0" />
<rect x="192" y="637" width="1" height="17" fill="#c0c0c0" />
<rect x="200" y="637" width="1" height="23" fill="#c0c0c0" />
<rect x="208" y="637" width="1" height="20" fill="#c0c0c0" />
<rect x="216" y="637" width="1" height="17" fill="#c0c0c0" />
<rect x="224" y="637" width="1" height="15" fill="#c0c0c0" />
<rect x="232" y="637" width="1" height="14" fill="#c0c0c0" />
<rect x="240" y="637" width="1" height="15" fill="#c0c0c0" />
<rect x="248" y="637" width="1" height="18" fill="#c0c0c0" />
<rect x="256" y="637" width="1" height="19" fill="#c0c0c0" />
<rect x="264" y="637" width="1" height="21" fill="#c0c0c0" />
<rect x="272" y="637" width="1" height="21" fill="#c0c0c0" />
<rect x="280" y="637" width="1" height="26" fill="#c0c0c0" />
<rect x="288" y="637" width="1" height="29" fill="#c0c0c0" />
<rect x="296" y="637" width="1" height="41" fill="#c0c0c0" />
<rect x="304" y="637" width="1" height="48" fill="#c0c0c0" />
<rect x="312" y="637" width="1" height="54" fill="#c0c0c0" />
<rect x="320" y="637" width="1" height="52" fill="#c0c0c0" />
<rect x="328" y="637" width="1" height="50" fill="#c0c0c0" />
<rect x="336" y="637" width="1" height="48" fill="#c0c0c0" />
<rect x="344" y="637" width="1" height="58" fill="#c0c0c0" />
<rect x="352" y="637" width="1" height="65" fill="#c0c0c0" />
<rect x="360" y="637" width="1" height="81" fill="#c0c0c0" />
<rect x="368" y="637" width="1" height="91" fill="#c0c0c0" />
<rect x="376" y="637" width="1" height="96" fill="#c0c0c0" />
<rect x="384" y="637" width="1" height="99" fill="#c0c0c0" />
<rect x="392" y="637" width="1" height="101" fill="#c0c0c0" />
<rect x="400" y="637" width="1" height="99" fill="#c0c0c0" />
<rect x="408" y="637" width="1" height="93" fill="#c0c0c0" />
<rect x="416" y="637" width="1" height="85" fill="#c0c0c0" />
<rect x="424" y="637" width="1" height="81" fill="#c0c0c0" />
<rect x="432" y="637" width="1" height="78" fill="#c0c0c0" />
<rect x="440" y="637" width="1" height="85" fill="#c0c0c0" />
<rect x="448" y="637" width="1" height="95" fill="#c0c0c0" />
<rect x="456" y="637" width="1" height="96" fill="#c0c0c0" />
<rect x="464" y="637" width="1" height="93" fill="#c0c0c0" />
<rect x="472" y="637" width="1" height="88" fill="#c0c0c0" />
<rect x="480" y="637" width="1" height="84" fill="#c0c0c0" />
<rect x="488" y="637" width="1" height="78" fill="#c0c0c0" />
<rect x="496" y="637" width="1" height="70" fill="#c0c0c0" />
<rect x="504" y="637" width="1" height="61" fill="#c0c0c0" />
<rect x="512" y="637" width="1" height="54" fill="#c0c0c0" />
<rect x="520" y="637" width="1" height="45" fill="#c0c0c0" />
<rect x="528" y="637" width="1" height="39" fill="#c0c0c0" />
<rect x="536" y="637" width="1" height="32" fill="#c0c0c0" />
<rect x="544" y="637" width="1" height="28" fill="#c0c0c0" />
<rect x="552" y="637" width="1" height="23" fill="#c0c0c0" />
<rect x="560" y="637" width="1" height="20" fill="#c0c0c0" />
<rect x="568" y="637" width="1" height="18" fill="#c0c0c0" />
<rect x="576" y="637" width="1" height="17" fill="#c0c0c0" />
<rect x="584" y="637" width="1" height="9" fill="#c0c0c0" />
<rect x="600" y="629" width="1" height="8" fill="#c0c0c0" />
<rect x="608" y="624" width="1" height="13" fill="#c0c0c0" />
<rect x="616" y="622" width="1" height="15" fill="#c0c0c0" />
<rect x="624" y="622" width="1" height="15" fill="#c0c0c0" />
<rect x="632" y="625" width="1" height="12" fill="#c0c0c0" />
<rect x="640" y="627" width="1" height="10" fill="#c0c0c0" />
<rect x="648" y="628" width="1" height="9" fill="#c0c0c0" />
<rect x="656" y="630" width="1" height="7" fill="#c0c0c0" />
<rect x="664" y="635" width="1" height="2" fill="#c0c0c0" />
<rect x="696" y="637" width="1" height="1" fill="#c0c0c0" />
<rect x="704" y="637" width="1" height="2" fill="#c0c0c0" />
<rect x="712" y="637" width="1" height="2" fill="#c0c0c0" />
<rect x="728" y="634" width="1" height="3" fill="#c0c0c0" />
<rect x="736" y="627" width="1" height="10" fill="#c0c0c0" />
<rect x="744" y="621" width="1" height="16" fill="#c0c0c0" />
<rect x="752" y="617" width="1" height="20" fill="#c0c0c0" />
<rect x="760" y="612" width="1" height="25" fill="#c0c0c0" />
<rect x="768" y="608" width="1" height="29" fill="#c0c0c0" />
<rect x="776" y="602" width="1" height="35" fill="#c0c0c0" />
<rect x="784" y="596" width="1" height="41" fill="#c0c0c0" />
<rect x="792" y="592" width="1" height="45" fill="#c0c0c0" />
<rect x="800" y="588" width="1" height="49" fill="#c0c0c0" />
<rect x="808" y="586" width="1" height="51" fill="#c0c0c0" />
<rect x="816" y="586" width="1" height="51" fill="#c0c0c0" />
<rect x="824" y="589" width="1" height="48" fill="#c0c0c0" />
<rect x="832" y="593" width="1" height="44" fill="#c0c0c0" />
<rect x="840" y="594" width="1" height="43" fill="#c0c0c0" />
<rect x="848" y="595" width="1" height="42" fill="#c0c0c0" />
<rect x="856" y="597" width="1" height="40" fill="#c0c0c0" />
<rect x="864" y="598" width="1" height="39" fill="#c0c0c0" />
<rect x="872" y="596" width="1" height="41" fill="#c0c0c0" />
<rect x="880" y="594" width="1" height="43" fill="#c0c0c0" />
<rect x="888" y="593" width="1" height="44" fill="#c0c0c0" />
<rect x="896" y="592" width="1" height="45" fill="#c0c0c0" />
<rect x="904" y="592" width="1" height="45" fill="#c0c0c0" />
<rect x="912" y="592" width="1" height="45" fill="#c0c0c0" />
<rect x="920" y="594" width="1" height="43" fill="#c0c0c0" />
<rect x="928" y="596" width="1" height="41" fill="#c0c0c0" />
<rect x="936" y="597" width="1" height="40" fill="#c0c0c0" />
<rect x="944" y="599" width="1" height="38" fill="#c0c0c0" />
<rect x="952" y="602" width="1" height="35" fill="#c0c0c0" />
<rect x="960" y="607" width="1" height="30" fill="#c0c0c0" />
<rect x="968" y="613" width="1" height="24" fill="#c0c0c0" />
<rect x="976" y="626" width="1" height="11" fill="#c0c0c0" />
<rect x="984" y="634" width="1" height="3" fill="#c0c0c0" />
<rect x="992" y="637" width="1" height="4" fill="#c0c0c0" />
<rect x="1000" y="637" width="1" height="11" fill="#c0c0c0" />
<rect x="1008" y="637" width="1" height="15" fill="#c0c0c0" />
<rect x="1016" y="637" width="1" height="13" fill="#c0c0c0" />
<rect x="1024" y="637" width="1" height="11" fill="#c0c0c0" />
<rect x="1032" y="637" width="1" height="11" fill="#c0c0c0" />
<rect x="1040" y="637" width="1" height="13" fill="#c0c0c0" />
<rect x="1048" y="637" width="1" height="14" fill="#c0c0c0" />
<rect x="1056" y="637" width="1" height="19" fill="#c0c0c0" />
<rect x="1064" y="637" width="1" height="21" fill="#c0c0c0" />
<rect x="1072" y="637" width="1" height="21" fill="#c0c0c0" />
<rect x="1080" y="637" width="1" height="20" fill="#c0c0c0" />
<rect x="1088" y="637" width="1" height="16" fill="#c0c0c0" />
<rect x="1096" y="637" width="1" height="14" fill="#c0c0c0" />
<rect x="1104" y="637" width="1" height="9" fill="#c0c0c0" />
<rect x="1112" y="637" width="1" height="2" fill="#c0c0c0" />
<rect x="1120" y="635" width="1" height="2" fill="#c0c0c0" />
<rect x="1128" y="630" width="1" height="7" fill="#c0c0c0" />
<rect x="1136" y="630" width="1" height="7" fill="#c0c0c0" />
<rect x="1144" y="630" width="1" height="7" fill="#c0c0c0" />
<rect x="1152" y="629" width="1" height="8" fill="#c0c0c0" />
<rect x="1160" y="630" width="1" height="7" fill="#c0c0c0" />
<rect x="1168" y="635" width="1" height="2" fill="#c0c0c0" />
<rect x="1184" y="637" width="1" height="1" fill="#c0c0c0" />
<rect x="1192" y="637" width="1" height="5" fill="#c0c0c0" />
<rect x="1200" y="637" width="1" height="5" fill="#c0c0c0" />
<rect x="1208" y="637" width="1" height="5" fill="#c0c0c0" />
<rect x="1216" y="637" width="1" height="5" fill="#c0c0c0" />
<rect x="1224" y="637" width="1" height="4" fill="#c0c0c0" />
<rect x="1232" y="637" width="1" height="4" fill="#c0c0c0" />
<rect x="1240" y="637" width="1" height="1" fill="#c0c0c0" />
<rect x="1248" y="637" width="1" height="1" fill="#c0c0c0" />
<rect x="1256" y="637" width="1" height="1" fill="#c0c0c0" />
<rect x="1264" y="637" width="1" height="3" fill="#c0c0c0" />
<rect x="1272" y="637" width="1" height="3" fill="#c0c0c0" />
<rect x="1280" y="637" width="1" height="1" fill="#c0c0c0" />
<rect x="1288" y="636" width="1" height="1" fill="#c0c0c0" />
<rect x="1296" y="627" width="1" height="10" fill="#c0c0c0" />
<rect x="1304" y="617" width="1" height="20" fill="#c0c0c0" />
<rect x="1312" y="610" width="1" height="27" fill="#c0c0c0" />
<rect x="1320" y="606" width="1" height="31" fill="#c0c0c0" />
<rect x="1328" y="603" width="1" height="34" fill="#c0c0c0" />
<rect x="1336" y="602" width="1" height="35" fill="#c0c0c0" />
<rect x="1344" y="601" width="1" height="36" fill="#c0c0c0" />
<rect x="1352" y="601" width="1" height="36" fill="#c0c0c0" />
<rect x="1360" y="601" width="1" height="36" fill="#c0c0c0" />
<rect x="1368" y="601" width="1" height="36" fill="#c0c0c0" />
<rect x="1376" y="601" width="1" height="36" fill="#c0c0c0" />
<rect x="1384" y="601" width="1" height="36" fill="#c0c0c0" />
</g>
<polyline points="0.0,660.0 13.3,658.3 25.0,655.0 36.7,649.0 50.0,643.3 63.3,639.3 76.7,634.3 90.0,631.7 103.3,629.3 116.7,628.3 133.3,627.7 146.7,627.3 163.3,628.3 173.3,631.7 185.0,634.3 196.7,640.0 208.3,644.0 216.7,649.0 230.0,652.3 246.7,654.3 263.3,655.7 280.0,656.0 293.3,658.3 306.7,665.7 320.0,672.3 333.3,676.7 346.7,683.3 360.0,691.7 373.3,700.0 386.7,710.0 400.0,720.0 413.3,726.7 426.7,729.3 443.3,729.0 460.0,727.7 476.7,725.0 493.3,724.0 510.0,719.0 523.3,710.0 536.7,700.0 550.0,688.3 560.0,678.3 568.0,673.3 579.3,665.7 592.7,657.7 606.0,649.0 619.3,641.7 632.7,635.7 646.0,630.0 656.0,626.7 666.0,626.3 679.3,627.7 692.7,631.7 706.0,634.3 719.3,636.7 729.3,637.3 742.7,634.3 756.0,631.0 769.3,625.7 782.7,616.7 796.0,609.3 809.3,601.7 819.3,596.7 832.7,592.3 849.3,590.7 866.0,591.0 872.7,592.7 886.0,593.3 899.3,594.3 912.7,593.3 932.7,593.3 952.7,594.0 969.3,598.3 982.7,605.7 996.0,615.0 1012.7,627.7 1026.0,636.7 1039.3,644.0 1052.7,649.0 1066.0,652.7 1079.3,654.0 1099.3,654.0 1119.3,651.0 1129.3,646.7 1132.0,645.7 1145.3,640.0 1155.3,635.7 1168.7,633.3 1182.0,632.3 1195.3,634.0 1208.7,636.7 1222.0,638.3 1232.0,640.0 1245.3,641.0 1258.7,642.3 1272.0,641.7 1285.3,640.0 1295.3,637.3 1308.7,634.3 1322.0,626.7 1332.0,621.0 1345.3,613.3 1358.7,606.7 1372.0,601.7 1384.0,600.0" fill="none" stroke="#ff0000" stroke-width="1" stroke-dasharray="3,2.5" shape-rendering="crispEdges"/>
</g>
<g clip-path="url(#cRsi)">
<line x1="0" y1="784.5" x2="1651" y2="784.5" stroke="#c0c0c0" stroke-width="1" stroke-dasharray="3,3" shape-rendering="crispEdges"/>
<line x1="0" y1="835.5" x2="1651" y2="835.5" stroke="#c0c0c0" stroke-width="1" stroke-dasharray="3,3" shape-rendering="crispEdges"/>
<line x1="0" y1="896.5" x2="1651" y2="896.5" stroke="#c0c0c0" stroke-width="1" stroke-dasharray="3,3" shape-rendering="crispEdges"/>
<polyline points="0.0,833.7 8.0,831.3 16.0,833.7 24.0,823.7 32.0,824.7 40.0,822.3 48.0,826.7 56.0,825.3 64.0,833.7 72.0,832.3 80.0,828.0 88.0,826.3 96.0,823.3 104.0,824.7 112.0,830.0 120.0,830.3 128.0,829.0 136.0,827.3 144.0,835.3 152.0,840.3 160.0,851.3 168.0,868.0 176.0,862.3 184.0,866.3 192.0,862.3 200.0,871.3 208.0,837.0 216.0,836.0 224.0,838.7 232.0,843.7 240.0,849.7 248.0,855.3 256.0,851.3 264.0,856.3 272.0,856.3 280.0,864.0 288.0,867.3 296.0,885.3 304.0,876.3 312.0,878.0 320.0,854.3 328.0,854.3 336.0,854.3 344.0,874.7 352.0,876.3 360.0,888.3 368.0,883.0 376.0,879.7 384.0,878.3 392.0,874.0 400.0,870.0 408.0,858.7 416.0,855.3 424.0,858.0 432.0,862.0 440.0,876.3 448.0,882.3 456.0,868.0 464.0,855.0 472.0,856.3 480.0,856.0 488.0,852.0 496.0,846.3 504.0,840.3 512.0,840.0 520.0,839.0 528.0,835.7 536.0,834.0 544.0,837.3 552.0,836.3 560.0,838.7 568.0,840.7 576.0,845.3 584.0,819.7 592.0,818.3 600.0,809.3 608.0,819.7 616.0,824.7 624.0,827.0 632.0,838.3 640.0,836.3 648.0,836.3 656.0,834.3 664.0,844.0 672.0,847.3 680.0,839.0 688.0,834.3 696.0,840.3 704.0,840.3 712.0,837.3 720.0,832.7 728.0,818.0 736.0,812.0 744.0,810.3 752.0,810.3 760.0,806.3 768.0,804.0 776.0,799.0 784.0,794.3 792.0,794.0 800.0,792.0 808.0,792.7 816.0,799.7 824.0,812.0 832.0,818.0 840.0,814.0 848.0,810.0 856.0,810.3 864.0,808.3 872.0,800.3 880.0,797.3 888.0,795.3 896.0,795.3 904.0,794.3 912.0,793.0 920.0,806.0 928.0,807.3 936.0,804.3 944.0,809.0 952.0,813.7 960.0,833.7 968.0,838.0 976.0,870.3 984.0,860.3 992.0,864.3 1000.0,866.3 1008.0,859.7 1016.0,838.0 1024.0,836.0 1032.0,839.7 1040.0,847.0 1048.0,849.0 1056.0,861.3 1064.0,854.0 1072.0,846.3 1080.0,843.0 1088.0,834.0 1096.0,835.3 1104.0,828.7 1112.0,818.7 1120.0,815.3 1128.0,814.0 1136.0,829.7 1144.0,832.3 1152.0,827.3 1160.0,835.3 1168.0,847.0 1176.0,845.3 1184.0,840.7 1192.0,850.3 1200.0,842.3 1208.0,840.3 1216.0,838.3 1224.0,837.3 1232.0,839.7 1240.0,834.3 1248.0,838.3 1256.0,832.3 1264.0,846.7 1272.0,835.3 1280.0,830.3 1288.0,824.0 1296.0,803.0 1304.0,799.3 1312.0,799.3 1320.0,806.3 1328.0,810.3 1336.0,806.3 1344.0,811.3 1352.0,809.3 1360.0,811.3 1368.0,811.3 1376.0,811.3 1384.0,811.3" fill="none" stroke="#1e90ff" stroke-width="1" shape-rendering="crispEdges"/>
</g>
<g shape-rendering="crispEdges">
<rect x="0" y="21" width="1652" height="1" fill="#000" />
<rect x="1651" y="21" width="1" height="902" fill="#000" />
<rect x="0" y="574" width="1652" height="1" fill="#000" />
<rect x="0" y="576" width="1652" height="1" fill="#000" />
<rect x="0" y="746" width="1652" height="1" fill="#000" />
<rect x="0" y="748" width="1652" height="1" fill="#000" />
<rect x="0" y="922" width="1652" height="1" fill="#000" />
<rect x="1696" y="19" width="1" height="919" fill="#f4f4f4" />
<rect x="1697" y="19" width="1" height="919" fill="#e2e2e2" />
</g>
<g font-family="Liberation Sans, Noto Sans CJK SC, sans-serif">
<rect x="1313" y="161" width="110" height="9" fill="#00ff00" shape-rendering="crispEdges"/>
<rect x="985.5" y="334.5" width="61" height="18" fill="#fff" stroke="#ff0000" stroke-width="1"/>
<text x="987.8" y="350.0" font-size="16.6" fill="#ff0000" textLength="57.3" lengthAdjust="spacingAndGlyphs" >28354.9</text>
<polyline points="1046,343.5 1057,343.5" fill="none" stroke="#ff0000" stroke-width="1" shape-rendering="crispEdges"/>
<rect x="1185.5" y="318.5" width="61" height="18" fill="#fff" stroke="#ff0000" stroke-width="1"/>
<text x="1187.8" y="334.0" font-size="16.6" fill="#ff0000" textLength="57.3" lengthAdjust="spacingAndGlyphs" >28453.5</text>
<polyline points="1246,327.5 1256,327.5" fill="none" stroke="#ff0000" stroke-width="1" shape-rendering="crispEdges"/>
<rect x="1129.5" y="156.5" width="61" height="18" fill="#fff" stroke="#ff0000" stroke-width="1"/>
<text x="1131.8" y="172.0" font-size="16.6" fill="#ff0000" textLength="57.3" lengthAdjust="spacingAndGlyphs" >29478.4</text>
<polyline points="1190,165.5 1201,165.5" fill="none" stroke="#ff0000" stroke-width="1" shape-rendering="crispEdges"/>
<rect x="1241.5" y="128.5" width="61" height="18" fill="#fff" stroke="#ff0000" stroke-width="1"/>
<text x="1243.8" y="144.0" font-size="16.6" fill="#ff0000" textLength="57.3" lengthAdjust="spacingAndGlyphs" >29655.5</text>
<polyline points="1302,137.5 1312,137.5" fill="none" stroke="#ff0000" stroke-width="1" shape-rendering="crispEdges"/>
<line x1="1255.6" y1="325.4" x2="1306" y2="153" stroke="#ff0000" stroke-width="3"/>
<polygon points="1307.6,148.2 1310.6,158.6 1300.2,155.6" fill="#ff0000"/>
<line x1="1307" y1="149.6" x2="1390" y2="157.3" stroke="#ff0000" stroke-width="2.9"/>
<polygon points="1399,158.2 1387,161.5 1388,153.5" fill="#ff0000"/>
<line x1="1321.5" y1="595.6" x2="1386" y2="598.6" stroke="#ff0000" stroke-width="2.4"/>
<polygon points="1394.5,599 1383,603 1383.5,594.5" fill="#ff0000"/>
<line x1="1307.5" y1="811.2" x2="1384" y2="812.2" stroke="#ff0000" stroke-width="2.4"/>
<polygon points="1392.5,812.3 1381,816.5 1381,808" fill="#ff0000"/>
</g>
<g font-family="Liberation Sans, Noto Sans CJK SC, sans-serif">
<rect x="1652" y="43" width="2" height="1" fill="#000" shape-rendering="crispEdges"/>
<text x="1657" y="46.9" font-size="9.3" fill="#000" textLength="32.4" lengthAdjust="spacingAndGlyphs" stroke="#000" stroke-width="0.22" >30251.0</text>
<rect x="1652" y="76" width="2" height="1" fill="#000" shape-rendering="crispEdges"/>
<text x="1657" y="79.9" font-size="9.3" fill="#000" textLength="32.4" lengthAdjust="spacingAndGlyphs" stroke="#000" stroke-width="0.22" >30041.0</text>
<rect x="1652" y="109" width="2" height="1" fill="#000" shape-rendering="crispEdges"/>
<text x="1657" y="112.9" font-size="9.3" fill="#000" textLength="32.4" lengthAdjust="spacingAndGlyphs" stroke="#000" stroke-width="0.22" >29837.0</text>
<rect x="1652" y="142" width="2" height="1" fill="#000" shape-rendering="crispEdges"/>
<text x="1657" y="145.9" font-size="9.3" fill="#000" textLength="32.4" lengthAdjust="spacingAndGlyphs" stroke="#000" stroke-width="0.22" >29627.0</text>
<rect x="1652" y="175" width="2" height="1" fill="#000" shape-rendering="crispEdges"/>
<text x="1657" y="178.9" font-size="9.3" fill="#000" textLength="32.4" lengthAdjust="spacingAndGlyphs" stroke="#000" stroke-width="0.22" >29417.0</text>
<rect x="1652" y="208" width="2" height="1" fill="#000" shape-rendering="crispEdges"/>
<text x="1657" y="211.9" font-size="9.3" fill="#000" textLength="32.4" lengthAdjust="spacingAndGlyphs" stroke="#000" stroke-width="0.22" >29207.0</text>
<rect x="1652" y="241" width="2" height="1" fill="#000" shape-rendering="crispEdges"/>
<text x="1657" y="244.9" font-size="9.3" fill="#000" textLength="32.4" lengthAdjust="spacingAndGlyphs" stroke="#000" stroke-width="0.22" >28997.0</text>
<rect x="1652" y="274" width="2" height="1" fill="#000" shape-rendering="crispEdges"/>
<text x="1657" y="277.9" font-size="9.3" fill="#000" textLength="32.4" lengthAdjust="spacingAndGlyphs" stroke="#000" stroke-width="0.22" >28787.0</text>
<rect x="1652" y="307" width="2" height="1" fill="#000" shape-rendering="crispEdges"/>
<text x="1657" y="310.9" font-size="9.3" fill="#000" textLength="32.4" lengthAdjust="spacingAndGlyphs" stroke="#000" stroke-width="0.22" >28577.0</text>
<rect x="1652" y="340" width="2" height="1" fill="#000" shape-rendering="crispEdges"/>
<text x="1657" y="343.9" font-size="9.3" fill="#000" textLength="32.4" lengthAdjust="spacingAndGlyphs" stroke="#000" stroke-width="0.22" >28373.0</text>
<rect x="1652" y="373" width="2" height="1" fill="#000" shape-rendering="crispEdges"/>
<text x="1657" y="376.9" font-size="9.3" fill="#000" textLength="32.4" lengthAdjust="spacingAndGlyphs" stroke="#000" stroke-width="0.22" >28163.0</text>
<rect x="1652" y="406" width="2" height="1" fill="#000" shape-rendering="crispEdges"/>
<text x="1657" y="409.9" font-size="9.3" fill="#000" textLength="32.4" lengthAdjust="spacingAndGlyphs" stroke="#000" stroke-width="0.22" >27953.0</text>
<rect x="1652" y="439" width="2" height="1" fill="#000" shape-rendering="crispEdges"/>
<text x="1657" y="442.9" font-size="9.3" fill="#000" textLength="32.4" lengthAdjust="spacingAndGlyphs" stroke="#000" stroke-width="0.22" >27743.0</text>
<rect x="1652" y="472" width="2" height="1" fill="#000" shape-rendering="crispEdges"/>
<text x="1657" y="475.9" font-size="9.3" fill="#000" textLength="32.4" lengthAdjust="spacingAndGlyphs" stroke="#000" stroke-width="0.22" >27533.0</text>
<rect x="1652" y="505" width="2" height="1" fill="#000" shape-rendering="crispEdges"/>
<text x="1657" y="508.9" font-size="9.3" fill="#000" textLength="32.4" lengthAdjust="spacingAndGlyphs" stroke="#000" stroke-width="0.22" >27323.0</text>
<rect x="1652" y="538" width="2" height="1" fill="#000" shape-rendering="crispEdges"/>
<text x="1657" y="541.9" font-size="9.3" fill="#000" textLength="32.4" lengthAdjust="spacingAndGlyphs" stroke="#000" stroke-width="0.22" >27113.0</text>
<rect x="1652" y="571" width="2" height="1" fill="#000" shape-rendering="crispEdges"/>
<text x="1657" y="574.9" font-size="9.3" fill="#000" textLength="32.4" lengthAdjust="spacingAndGlyphs" stroke="#000" stroke-width="0.22" >26909.0</text>
<rect x="1653" y="156" width="41" height="11" fill="#000" />
<text x="1657" y="164.6" font-size="9.3" fill="#fff" textLength="32.4" lengthAdjust="spacingAndGlyphs" >29505.0</text>
<rect x="1653" y="98" width="41" height="11" fill="#ff0000" shape-rendering="crispEdges"/>
<text x="1657" y="107.0" font-size="9.3" fill="#fff" textLength="32.4" lengthAdjust="spacingAndGlyphs" >29864.3</text>
<rect x="1653" y="122" width="41" height="11" fill="#ff0000" shape-rendering="crispEdges"/>
<text x="1657" y="131.0" font-size="9.3" fill="#fff" textLength="32.4" lengthAdjust="spacingAndGlyphs" >29712.4</text>
<rect x="1653" y="159" width="41" height="11" fill="#32cd32" shape-rendering="crispEdges"/>
<text x="1657" y="168.0" font-size="9.3" fill="#fff" textLength="32.4" lengthAdjust="spacingAndGlyphs" >29478.4</text>
<rect x="1653" y="181" width="41" height="11" fill="#0000ff" shape-rendering="crispEdges"/>
<text x="1657" y="190.0" font-size="9.3" fill="#fff" textLength="32.4" lengthAdjust="spacingAndGlyphs" >29339.2</text>
<rect x="1653" y="204" width="41" height="11" fill="#0000ff" shape-rendering="crispEdges"/>
<text x="1657" y="213.0" font-size="9.3" fill="#fff" textLength="32.4" lengthAdjust="spacingAndGlyphs" >29193.7</text>
<text x="1656" y="586.5" font-size="9.3" fill="#000" textLength="28" lengthAdjust="spacingAndGlyphs" stroke="#000" stroke-width="0.22" >277.81</text>
<rect x="1652" y="578" width="2" height="1" fill="#000" shape-rendering="crispEdges"/>
<text x="1656" y="641" font-size="9.3" fill="#000" textLength="18" lengthAdjust="spacingAndGlyphs" stroke="#000" stroke-width="0.22" >0.00</text>
<rect x="1652" y="637" width="2" height="1" fill="#000" shape-rendering="crispEdges"/>
<text x="1654.5" y="742.8" font-size="9.3" fill="#000" textLength="32" lengthAdjust="spacingAndGlyphs" stroke="#000" stroke-width="0.22" >-510.44</text>
<text x="1656" y="759.0" font-size="9.3" fill="#000" textLength="14.5" lengthAdjust="spacingAndGlyphs" stroke="#000" stroke-width="0.22" >100</text>
<text x="1656" y="787.8" font-size="9.3" fill="#000" textLength="9.7" lengthAdjust="spacingAndGlyphs" stroke="#000" stroke-width="0.22" >80</text>
<text x="1656" y="839.2" font-size="9.3" fill="#000" textLength="9.7" lengthAdjust="spacingAndGlyphs" stroke="#000" stroke-width="0.22" >50</text>
<text x="1656" y="900.2" font-size="9.3" fill="#000" textLength="9.7" lengthAdjust="spacingAndGlyphs" stroke="#000" stroke-width="0.22" >15</text>
<text x="1656" y="919.2" font-size="9.3" fill="#000" textLength="4.9" lengthAdjust="spacingAndGlyphs" stroke="#000" stroke-width="0.22" >0</text>
<text x="-1.8" y="589" font-size="9.3" fill="#000" textLength="125.5" lengthAdjust="spacingAndGlyphs" stroke="#000" stroke-width="0.22" >MACD(12,26,9) 167.96 170.24</text>
<text x="-4.2" y="760.8" font-size="9.3" fill="#000" textLength="67.5" lengthAdjust="spacingAndGlyphs" stroke="#000" stroke-width="0.22" >RSI(14) 64.3663</text>
<text x="6.7" y="32.8" font-size="9.3" fill="#000" textLength="197.2" lengthAdjust="spacingAndGlyphs" stroke="#000" stroke-width="0.22" >JPN225-,H4  29512.5 29532.5 29477.5 29505.0</text>
<polygon points="0,33 0,30 3,33" fill="#000"/>
<rect x="-8" y="923" width="1" height="3" fill="#000" shape-rendering="crispEdges"/>
<text x="-8.5" y="934.5" font-size="9.3" fill="#000" textLength="51" lengthAdjust="spacingAndGlyphs" stroke="#000" stroke-width="0.22" >22 Sep 2021</text>
<rect x="56" y="923" width="1" height="3" fill="#000" shape-rendering="crispEdges"/>
<text x="55.5" y="934.5" font-size="9.3" fill="#000" textLength="54.7" lengthAdjust="spacingAndGlyphs" stroke="#000" stroke-width="0.22" >24 Sep 00:00</text>
<rect x="120" y="923" width="1" height="3" fill="#000" shape-rendering="crispEdges"/>
<text x="119.5" y="934.5" font-size="9.3" fill="#000" textLength="54.7" lengthAdjust="spacingAndGlyphs" stroke="#000" stroke-width="0.22" >27 Sep 10:55</text>
<rect x="184" y="923" width="1" height="3" fill="#000" shape-rendering="crispEdges"/>
<text x="183.5" y="934.5" font-size="9.3" fill="#000" textLength="54.7" lengthAdjust="spacingAndGlyphs" stroke="#000" stroke-width="0.22" >28 Sep 18:55</text>
<rect x="248" y="923" width="1" height="3" fill="#000" shape-rendering="crispEdges"/>
<text x="247.5" y="934.5" font-size="9.3" fill="#000" textLength="54.7" lengthAdjust="spacingAndGlyphs" stroke="#000" stroke-width="0.22" >30 Sep 00:00</text>
<rect x="312" y="923" width="1" height="3" fill="#000" shape-rendering="crispEdges"/>
<text x="311.5" y="934.5" font-size="9.3" fill="#000" textLength="48.2" lengthAdjust="spacingAndGlyphs" stroke="#000" stroke-width="0.22" >1 Oct 10:55</text>
<rect x="376" y="923" width="1" height="3" fill="#000" shape-rendering="crispEdges"/>
<text x="375.5" y="934.5" font-size="9.3" fill="#000" textLength="48.2" lengthAdjust="spacingAndGlyphs" stroke="#000" stroke-width="0.22" >4 Oct 18:55</text>
<rect x="440" y="923" width="1" height="3" fill="#000" shape-rendering="crispEdges"/>
<text x="439.5" y="934.5" font-size="9.3" fill="#000" textLength="48.2" lengthAdjust="spacingAndGlyphs" stroke="#000" stroke-width="0.22" >6 Oct 00:00</text>
<rect x="504" y="923" width="1" height="3" fill="#000" shape-rendering="crispEdges"/>
<text x="503.5" y="934.5" font-size="9.3" fill="#000" textLength="48.2" lengthAdjust="spacingAndGlyphs" stroke="#000" stroke-width="0.22" >7 Oct 10:55</text>
<rect x="568" y="923" width="1" height="3" fill="#000" shape-rendering="crispEdges"/>
<text x="567.5" y="934.5" font-size="9.3" fill="#000" textLength="48.2" lengthAdjust="spacingAndGlyphs" stroke="#000" stroke-width="0.22" >8 Oct 18:55</text>
<rect x="632" y="923" width="1" height="3" fill="#000" shape-rendering="crispEdges"/>
<text x="631.5" y="934.5" font-size="9.3" fill="#000" textLength="53.2" lengthAdjust="spacingAndGlyphs" stroke="#000" stroke-width="0.22" >12 Oct 00:00</text>
<rect x="696" y="923" width="1" height="3" fill="#000" shape-rendering="crispEdges"/>
<text x="695.5" y="934.5" font-size="9.3" fill="#000" textLength="53.2" lengthAdjust="spacingAndGlyphs" stroke="#000" stroke-width="0.22" >13 Oct 10:55</text>
<rect x="760" y="923" width="1" height="3" fill="#000" shape-rendering="crispEdges"/>
<text x="759.5" y="934.5" font-size="9.3" fill="#000" textLength="53.2" lengthAdjust="spacingAndGlyphs" stroke="#000" stroke-width="0.22" >14 Oct 18:55</text>
<rect x="824" y="923" width="1" height="3" fill="#000" shape-rendering="crispEdges"/>
<text x="823.5" y="934.5" font-size="9.3" fill="#000" textLength="53.2" lengthAdjust="spacingAndGlyphs" stroke="#000" stroke-width="0.22" >18 Oct 00:00</text>
<rect x="888" y="923" width="1" height="3" fill="#000" shape-rendering="crispEdges"/>
<text x="887.5" y="934.5" font-size="9.3" fill="#000" textLength="53.2" lengthAdjust="spacingAndGlyphs" stroke="#000" stroke-width="0.22" >19 Oct 10:55</text>
<rect x="952" y="923" width="1" height="3" fill="#000" shape-rendering="crispEdges"/>
<text x="951.5" y="934.5" font-size="9.3" fill="#000" textLength="53.2" lengthAdjust="spacingAndGlyphs" stroke="#000" stroke-width="0.22" >20 Oct 18:55</text>
<rect x="1016" y="923" width="1" height="3" fill="#000" shape-rendering="crispEdges"/>
<text x="1015.5" y="934.5" font-size="9.3" fill="#000" textLength="53.2" lengthAdjust="spacingAndGlyphs" stroke="#000" stroke-width="0.22" >22 Oct 00:00</text>
<rect x="1080" y="923" width="1" height="3" fill="#000" shape-rendering="crispEdges"/>
<text x="1079.5" y="934.5" font-size="9.3" fill="#000" textLength="53.2" lengthAdjust="spacingAndGlyphs" stroke="#000" stroke-width="0.22" >25 Oct 10:55</text>
<rect x="1144" y="923" width="1" height="3" fill="#000" shape-rendering="crispEdges"/>
<text x="1143.5" y="934.5" font-size="9.3" fill="#000" textLength="53.2" lengthAdjust="spacingAndGlyphs" stroke="#000" stroke-width="0.22" >26 Oct 18:55</text>
<rect x="1208" y="923" width="1" height="3" fill="#000" shape-rendering="crispEdges"/>
<text x="1207.5" y="934.5" font-size="9.3" fill="#000" textLength="53.2" lengthAdjust="spacingAndGlyphs" stroke="#000" stroke-width="0.22" >28 Oct 00:00</text>
<rect x="1272" y="923" width="1" height="3" fill="#000" shape-rendering="crispEdges"/>
<text x="1271.5" y="934.5" font-size="9.3" fill="#000" textLength="53.2" lengthAdjust="spacingAndGlyphs" stroke="#000" stroke-width="0.22" >29 Oct 10:55</text>
<rect x="1336" y="923" width="1" height="3" fill="#000" shape-rendering="crispEdges"/>
<text x="1335.5" y="934.5" font-size="9.3" fill="#000" textLength="50.9" lengthAdjust="spacingAndGlyphs" stroke="#000" stroke-width="0.22" >1 Nov 18:55</text>
</g>
<polygon points="1396,22 1405.5,22 1400.7,27" fill="#b4b4b4"/>
<g font-family="Liberation Sans, Noto Sans CJK SC, sans-serif">
<rect x="0" y="41" width="47" height="24" fill="url(#gBtn)" />
<rect x="162" y="41" width="52" height="24" fill="url(#gBtn)" />
<rect x="0" y="65" width="104" height="33" fill="url(#gBox)" />
<rect x="106" y="65" width="108" height="33" fill="url(#gBox)" />
<rect x="0" y="64" width="43" height="1" fill="#a41a1a" shape-rendering="crispEdges"/>
<rect x="166" y="64" width="44" height="1" fill="#a41a1a" shape-rendering="crispEdges"/>
<rect x="49.5" y="41.5" width="110" height="21" fill="#fff" stroke="#a3a6ad" stroke-width="1"/>
<rect x="51" y="43" width="18" height="18.5" fill="url(#gSpin)" />
<rect x="69.5" y="42" width="1" height="20" fill="#a3a6ad" />
<rect x="139.5" y="43" width="19" height="18.5" fill="url(#gSpin)" />
<rect x="138.5" y="42" width="1" height="20" fill="#a3a6ad" />
<polygon points="57,50.3 62.4,50.3 59.7,53.2" fill="#4a5fc0"/>
<polygon points="145.8,52.6 151.4,52.6 148.6,49.6" fill="#4a5fc0"/>
<text x="7.5" y="56.1" font-size="11.6" fill="#fff" textLength="25.3" lengthAdjust="spacingAndGlyphs" >SELL</text>
<text x="175.6" y="56.1" font-size="11.6" fill="#fff" textLength="22.9" lengthAdjust="spacingAndGlyphs" >BUY</text>
<text x="111.6" y="55.7" font-size="11" fill="#000" textLength="22.9" lengthAdjust="spacingAndGlyphs" >1.00</text>
<text x="11.2" y="93.1" font-size="11.6" fill="#fff" textLength="34.1" lengthAdjust="spacingAndGlyphs" font-weight="bold" >29503</text>
<text x="121.2" y="93.1" font-size="11.6" fill="#fff" textLength="34.1" lengthAdjust="spacingAndGlyphs" font-weight="bold" >29526</text>
<circle cx="52" cy="91" r="2.2" fill="#fff"/>
<text x="58.2" y="93.1" font-size="33" fill="#fff" textLength="14" lengthAdjust="spacingAndGlyphs" >5</text>
<circle cx="163.2" cy="91" r="2.2" fill="#fff"/>
<text x="169" y="93.1" font-size="33" fill="#fff" textLength="14" lengthAdjust="spacingAndGlyphs" >5</text>
</g>
<rect x="0" y="0" width="1698" height="17" fill="#f0f0f0" shape-rendering="crispEdges"/>
<rect x="0" y="17" width="1698" height="1" fill="#d4d4d4" shape-rendering="crispEdges"/>
<rect x="0" y="18" width="1698" height="1" fill="#8c8c8c" shape-rendering="crispEdges"/>
<g id="toolbar">
<defs><pattern id="chk" width="2" height="2" patternUnits="userSpaceOnUse"><rect width="2" height="2" fill="#f7f7f7"/><rect width="1" height="1" fill="#ececec"/><rect x="1" y="1" width="1" height="1" fill="#ececec"/></pattern><linearGradient id="gold" x1="0" y1="0" x2="1" y2="1"><stop offset="0" stop-color="#f6d65a"/><stop offset="1" stop-color="#b98a14"/></linearGradient><linearGradient id="grn" x1="0" y1="0" x2="0" y2="1"><stop offset="0" stop-color="#58ee58"/><stop offset="0.55" stop-color="#1fcf1f"/><stop offset="1" stop-color="#0d930d"/></linearGradient><radialGradient id="clk" cx="0.5" cy="0.5" r="0.5"><stop offset="0.68" stop-color="#ffffff"/><stop offset="0.72" stop-color="#2a6fd6"/><stop offset="1" stop-color="#0f4bb0"/></radialGradient></defs>
<path d="M0,8.5 L4.2,13.2" stroke="#c9a227" stroke-width="3" stroke-linecap="round"/>
<rect x="0" y="4.5" width="1" height="3" fill="#4a90e2"/>
<rect x="12" y="0" width="1" height="15" fill="#a0a0a0" shape-rendering="crispEdges"/>
<path d="M22.5,-1 H33.5 V9.5 H22.5 Z" fill="#fff" stroke="#8a8a8a" stroke-width="0.9"/>
<path d="M24.5,1 H31 M24.5,3.3 H30 M24.5,5.6 H29" stroke="#9a9a9a" stroke-width="0.9"/>
<path d="M30.1,3.8 h3.8000000000000003 v3.8000000000000003 h3.8000000000000003 v3.8000000000000003 h-3.8000000000000003 v3.8000000000000003 h-3.8000000000000003 v-3.8000000000000003 h-3.8000000000000003 v-3.8000000000000003 h3.8000000000000003 z" fill="url(#grn)" stroke="#0a7a0a" stroke-width="0.6"/>
<text x="41.2" y="8.2" font-size="12" fill="#000" stroke="#000" stroke-width="0.25" font-family="Liberation Sans, Noto Sans CJK SC, sans-serif" textLength="35.4" lengthAdjust="spacingAndGlyphs">新订单</text>
<path d="M96,-1 L105,5 L97.5,12.5 L89.5,7 Z" fill="url(#gold)" stroke="#a87b12" stroke-width="0.8"/>
<path d="M97.5,12.5 L105,5 L105,6.8 L97.8,13.6 L89.5,8.4 L89.5,7 Z" fill="#b98a14"/>
<rect x="119.5" y="-1" width="10.5" height="7" fill="#2f8fe8"/>
<rect x="122" y="1.2" width="5.5" height="1.2" fill="#cfe8ff"/>
<path d="M120.5,13 a3.3,3.3 0 0 1 0.3,-6.5 a4,3.8 0 0 1 7.3,-0.6 a3.2,3.2 0 0 1 4.3,3.2 a2.4,2.4 0 0 1 -1.4,3.9 Z" fill="#eef4fb" stroke="#8fa6c8" stroke-width="0.9"/>
<path d="M153,4 L153,12.6 A8.6,8.6 0 0 0 161.2,3 Z" fill="#56b060" opacity="0.85"/>
<path d="M147.2,-1 A7,7 0 0 0 150,9.5 M149.6,0 A4,4 0 0 0 151,6.6 M158.6,-1 A7,7 0 0 1 157.6,8 M156.3,0.5 A4,4 0 0 1 155.6,6.4" stroke="#5a8ad8" stroke-width="1" fill="none"/>
<circle cx="153" cy="3.9" r="1.7" fill="#2a62d0"/>
<rect x="152.6" y="5" width="1" height="7.6" fill="#2e9e3e"/>
<ellipse cx="180" cy="1" rx="8.2" ry="3.4" fill="#4a9be0"/>
<ellipse cx="180.5" cy="-0.3" rx="4.5" ry="2" fill="#9ccbf2"/>
<path d="M172.6,4.2 L186,4.2 L180.5,13 L176.5,12 Z" fill="#f3cf3e" stroke="#d0a420" stroke-width="0.5"/>
<circle cx="184.4" cy="9" r="3.8" fill="#d42a1c"/>
<rect x="182.7" y="7.3" width="3.4" height="3.4" fill="#fff"/>
<text x="193.8" y="8.4" font-size="12" fill="#000" stroke="#000" stroke-width="0.25" font-family="Liberation Sans, Noto Sans CJK SC, sans-serif" textLength="46.6" lengthAdjust="spacingAndGlyphs">自动交易</text>
<rect x="248" y="0" width="1" height="17" fill="#b8b8b8" shape-rendering="crispEdges"/>
<rect x="249" y="0" width="1" height="17" fill="#fdfdfd" shape-rendering="crispEdges"/>
<rect x="252" y="1" width="3" height="1" fill="#b4b4b4" shape-rendering="crispEdges"/>
<rect x="252" y="3" width="3" height="1" fill="#b4b4b4" shape-rendering="crispEdges"/>
<rect x="252" y="5" width="3" height="1" fill="#b4b4b4" shape-rendering="crispEdges"/>
<rect x="252" y="7" width="3" height="1" fill="#b4b4b4" shape-rendering="crispEdges"/>
<rect x="252" y="9" width="3" height="1" fill="#b4b4b4" shape-rendering="crispEdges"/>
<rect x="252" y="11" width="3" height="1" fill="#b4b4b4" shape-rendering="crispEdges"/>
<rect x="252" y="13" width="3" height="1" fill="#b4b4b4" shape-rendering="crispEdges"/>
<path d="M266.3,0 V13 M264.0,10.8 H277.8" stroke="#505050" stroke-width="1.1" fill="none"/>
<polygon points="275.8,9 278.6,10.8 275.8,12.6" fill="#505050"/>
<path d="M272.8,0 V9 M272.8,1.5 H275.2 M270.2,7.5 H272.8" stroke="#1c9a1c" stroke-width="1.2" fill="none"/>
<rect x="286" y="0" width="1" height="15" fill="#a0a0a0" shape-rendering="crispEdges"/>
<rect x="287" y="0" width="24" height="15.5" fill="url(#chk)"/>
<path d="M294.2,0 V13 M291.9,10.8 H305.7" stroke="#505050" stroke-width="1.1" fill="none"/>
<polygon points="303.7,9 306.5,10.8 303.7,12.6" fill="#505050"/>
<rect x="298.2" y="-1" width="4.8" height="8" fill="url(#grn)" stroke="#0c7c0c" stroke-width="0.6"/><rect x="300.1" y="7" width="1" height="2.2" fill="#0c7c0c"/>
<path d="M322.4,0 V13 M320.09999999999997,10.8 H333.9" stroke="#505050" stroke-width="1.1" fill="none"/>
<polygon points="331.9,9 334.7,10.8 331.9,12.6" fill="#505050"/>
<path d="M321,8 C324,4 326,2 327.5,2.2 C329.5,2.6 331,5.5 333,6.6" stroke="#2e9e3e" stroke-width="1.1" fill="none"/>
<rect x="343" y="0" width="1" height="15" fill="#a0a0a0" shape-rendering="crispEdges"/>
<path d="M361.6,6.6 L366.8,11.3" stroke="#c9a227" stroke-width="2.6" stroke-linecap="round"/>
<circle cx="357.8" cy="2.6" r="5.2" fill="#d4e8f8" stroke="#3f7fd0" stroke-width="1.2"/>
<rect x="354.8" y="2" width="6" height="1.4" fill="#3572c6"/>
<rect x="357.1" y="-0.5" width="1.4" height="6.2" fill="#3572c6"/>
<path d="M389.8,6.6 L395,11.3" stroke="#c9a227" stroke-width="2.6" stroke-linecap="round"/>
<circle cx="386" cy="2.6" r="5.2" fill="#d4e8f8" stroke="#3f7fd0" stroke-width="1.2"/>
<rect x="383" y="2" width="6" height="1.4" fill="#3572c6"/>
<rect x="408.3" y="-1" width="7.4" height="6.5" fill="#4aa832"/>
<rect x="409.8" y="1.5" width="4.4" height="2.8" fill="#eef3fb"/>
<rect x="416.3" y="-1" width="7.4" height="6.5" fill="#2f62d0"/>
<rect x="417.8" y="1.5" width="4.4" height="2.8" fill="#eef3fb"/>
<rect x="408.3" y="6" width="7.4" height="6.5" fill="#2f62d0"/>
<rect x="409.8" y="8.5" width="4.4" height="2.8" fill="#eef3fb"/>
<rect x="416.3" y="6" width="7.4" height="6.5" fill="#4aa832"/>
<rect x="417.8" y="8.5" width="4.4" height="2.8" fill="#eef3fb"/>
<rect x="433" y="0" width="1" height="15" fill="#a0a0a0" shape-rendering="crispEdges"/>
<rect x="438.5" y="0" width="24.5" height="15.5" fill="url(#chk)"/>
<path d="M446.7,0 V13 M444.4,10.8 H458.2" stroke="#505050" stroke-width="1.1" fill="none"/>
<polygon points="456.2,9 459.0,10.8 456.2,12.6" fill="#505050"/>
<polygon points="451.2,1.6 451.2,7.6 455.2,4.6" fill="#7be07b" stroke="#1c9a1c" stroke-width="0.8"/>
<rect x="466" y="0" width="1" height="15" fill="#a0a0a0" shape-rendering="crispEdges"/>
<rect x="467.5" y="0" width="23.5" height="15.5" fill="url(#chk)"/>
<path d="M474.5,0 V13 M472.2,10.8 H486.0" stroke="#505050" stroke-width="1.1" fill="none"/>
<polygon points="484.0,9 486.8,10.8 484.0,12.6" fill="#505050"/>
<rect x="480" y="0" width="1" height="9" fill="#2a6fc0"/>
<path d="M481.5,4.6 H486" stroke="#d04a10" stroke-width="1"/><polygon points="481.2,4.6 484,2.6 484,6.6" fill="#d04a10"/>
<rect x="495" y="0" width="1" height="15" fill="#a0a0a0" shape-rendering="crispEdges"/>
<path d="M505.5,-1 H517 V9.8 H505.5 Z" fill="#fff" stroke="#8a8a8a" stroke-width="0.9"/>
<path d="M508,1 H514 M508,3.3 H513" stroke="#9a9a9a" stroke-width="0.9"/>
<path d="M513.2666666666667,3.4 h3.8666666666666667 v3.8666666666666667 h3.8666666666666667 v3.8666666666666667 h-3.8666666666666667 v3.8666666666666667 h-3.8666666666666667 v-3.8666666666666667 h-3.8666666666666667 v-3.8666666666666667 h3.8666666666666667 z" fill="url(#grn)" stroke="#0a7a0a" stroke-width="0.6"/>
<polygon points="527,4 533,4 530,7.3" fill="#000"/>
<circle cx="551" cy="4.4" r="8.2" fill="url(#clk)"/>
<path d="M550.6,0 V5 H553.6" stroke="#222" stroke-width="1" fill="none"/>
<polygon points="565.6,4 571.6,4 568.6,7.3" fill="#000"/>
<rect x="582.8" y="-1" width="15" height="12.3" fill="#fff" stroke="#3a78cc" stroke-width="1.2"/>
<rect x="582.8" y="5.2" width="15" height="1" fill="#3a78cc"/>
<path d="M584.5,4 L587,3.4 L589,2.2 L591.5,3.4 L594,2.8 L596,2" stroke="#b0281c" stroke-width="1" fill="none"/>
<path d="M584.5,9.2 L587,8.8 L589,8 L591,9 L593.5,7.2 L596,9.2" stroke="#1c9a1c" stroke-width="1" fill="none"/>
<polygon points="605,4 611,4 608,7.3" fill="#000"/>
<rect x="616" y="0" width="1" height="17" fill="#b8b8b8" shape-rendering="crispEdges"/>
<rect x="617" y="0" width="1" height="17" fill="#fdfdfd" shape-rendering="crispEdges"/>
<rect x="620" y="1" width="3" height="1" fill="#b4b4b4" shape-rendering="crispEdges"/>
<rect x="620" y="3" width="3" height="1" fill="#b4b4b4" shape-rendering="crispEdges"/>
<rect x="620" y="5" width="3" height="1" fill="#b4b4b4" shape-rendering="crispEdges"/>
<rect x="620" y="7" width="3" height="1" fill="#b4b4b4" shape-rendering="crispEdges"/>
<rect x="620" y="9" width="3" height="1" fill="#b4b4b4" shape-rendering="crispEdges"/>
<rect x="620" y="11" width="3" height="1" fill="#b4b4b4" shape-rendering="crispEdges"/>
<rect x="620" y="13" width="3" height="1" fill="#b4b4b4" shape-rendering="crispEdges"/>
<rect x="626" y="0" width="1" height="15" fill="#a0a0a0" shape-rendering="crispEdges"/>
<rect x="627" y="0" width="24" height="15.5" fill="url(#chk)"/>
<path d="M634.2,-2 L634.2,8.6 L636.8,6.4 L639.2,11.8 L641,11 L638.6,5.8 L642.2,5.6 Z" fill="#4a4a4a"/>
<path d="M666.5,0 V4 M666.5,7 V13 M658.8,5.5 H664.8 M668,5.5 H673.8" stroke="#4a4a4a" stroke-width="1.1"/><rect x="666" y="5" width="1" height="1" fill="#4a4a4a"/>
<rect x="683" y="0" width="1" height="15" fill="#a0a0a0" shape-rendering="crispEdges"/>
<rect x="700" y="0" width="1.1" height="11.8" fill="#4a4a4a"/>
<rect x="723" y="4.9" width="12" height="1.1" fill="#4a4a4a"/>
<path d="M750.8,12 L763.4,-0.2" stroke="#4a4a4a" stroke-width="1.1"/>
<path d="M777.5,6.5 L786,-1 M779.5,11.5 L790.5,1.5 M778.3,9 L787.5,0.5" stroke="#4a4a4a" stroke-width="0.9"/>
<path d="M779,5 L780.5,10.5 M781.5,3 L783,8.5 M784,1 L785.5,6.5 M786.5,-1 L788,4.5" stroke="#4a4a4a" stroke-width="0.8"/>
<text x="787.7" y="14" font-size="6.8" font-weight="bold" fill="#222" font-family="Liberation Sans, Noto Sans CJK SC, sans-serif">E</text>
<line x1="806" y1="1.5" x2="819" y2="1.5" stroke="#4a4a4a" stroke-width="1" stroke-dasharray="1,1"/>
<line x1="806" y1="5.5" x2="819" y2="5.5" stroke="#4a4a4a" stroke-width="1" stroke-dasharray="1,1"/>
<line x1="806" y1="9.5" x2="815" y2="9.5" stroke="#4a4a4a" stroke-width="1" stroke-dasharray="1,1"/>
<text x="815.6" y="14" font-size="6.8" font-weight="bold" fill="#222" font-family="Liberation Sans, Noto Sans CJK SC, sans-serif">F</text>
<text x="836.6" y="9.5" font-size="12" fill="#5a5a5a" stroke="#5a5a5a" stroke-width="0.3" font-family="Liberation Sans, Noto Sans CJK SC, sans-serif">A</text>
<rect x="863.5" y="1.5" width="11" height="10" fill="none" stroke="#5a5a5a" stroke-width="1" stroke-dasharray="1,1"/>
<text x="865.2" y="9.6" font-size="10.5" fill="#5a5a5a" stroke="#5a5a5a" stroke-width="0.3" font-family="Liberation Sans, Noto Sans CJK SC, sans-serif">T</text>
<polygon points="894,-1.5 897,2 894,3.6 891,2" fill="#4a4a4a"/>
<path d="M893,6 L895.3,8.4 L899,3.2" stroke="#4a4a4a" stroke-width="1.3" fill="none"/>
<polygon points="897.5,8 903.8,8 900.6,11.8" fill="#4a4a4a"/><rect x="899.2" y="6.5" width="2.8" height="2" fill="#4a4a4a"/>
<polygon points="910.6,4 916.6,4 913.6,7.3" fill="#000"/>
<rect x="922" y="0" width="1" height="17" fill="#b8b8b8" shape-rendering="crispEdges"/>
<rect x="923" y="0" width="1" height="17" fill="#fdfdfd" shape-rendering="crispEdges"/>
<rect x="926" y="1" width="3" height="1" fill="#b4b4b4" shape-rendering="crispEdges"/>
<rect x="926" y="3" width="3" height="1" fill="#b4b4b4" shape-rendering="crispEdges"/>
<rect x="926" y="5" width="3" height="1" fill="#b4b4b4" shape-rendering="crispEdges"/>
<rect x="926" y="7" width="3" height="1" fill="#b4b4b4" shape-rendering="crispEdges"/>
<rect x="926" y="9" width="3" height="1" fill="#b4b4b4" shape-rendering="crispEdges"/>
<rect x="926" y="11" width="3" height="1" fill="#b4b4b4" shape-rendering="crispEdges"/>
<rect x="926" y="13" width="3" height="1" fill="#b4b4b4" shape-rendering="crispEdges"/>
<rect x="1072.5" y="0" width="25.5" height="15" fill="url(#chk)"/>
<rect x="1072" y="0" width="1" height="15" fill="#9a9a9a" shape-rendering="crispEdges"/>
<text x="937.8" y="8.8" font-size="9.3" fill="#4a4a4a" font-family="Liberation Sans, Noto Sans CJK SC, sans-serif" textLength="12.2" lengthAdjust="spacingAndGlyphs">M1</text>
<text x="965.8" y="8.8" font-size="9.3" fill="#4a4a4a" font-family="Liberation Sans, Noto Sans CJK SC, sans-serif" textLength="12.2" lengthAdjust="spacingAndGlyphs">M5</text>
<text x="991.3" y="8.8" font-size="9.3" fill="#4a4a4a" font-family="Liberation Sans, Noto Sans CJK SC, sans-serif" textLength="17.9" lengthAdjust="spacingAndGlyphs">M15</text>
<text x="1019.6" y="8.8" font-size="9.3" fill="#4a4a4a" font-family="Liberation Sans, Noto Sans CJK SC, sans-serif" textLength="17.9" lengthAdjust="spacingAndGlyphs">M30</text>
<text x="1050.2" y="8.8" font-size="9.3" fill="#4a4a4a" font-family="Liberation Sans, Noto Sans CJK SC, sans-serif" textLength="11.8" lengthAdjust="spacingAndGlyphs">H1</text>
<text x="1078" y="8.8" font-size="9.3" fill="#4a4a4a" font-family="Liberation Sans, Noto Sans CJK SC, sans-serif" textLength="11.8" lengthAdjust="spacingAndGlyphs">H4</text>
<text x="1106.2" y="8.8" font-size="9.3" fill="#4a4a4a" font-family="Liberation Sans, Noto Sans CJK SC, sans-serif" textLength="11.8" lengthAdjust="spacingAndGlyphs">D1</text>
<text x="1134" y="8.8" font-size="9.3" fill="#4a4a4a" font-family="Liberation Sans, Noto Sans CJK SC, sans-serif" textLength="14.2" lengthAdjust="spacingAndGlyphs">W1</text>
<text x="1160.4" y="8.8" font-size="9.3" fill="#4a4a4a" font-family="Liberation Sans, Noto Sans CJK SC, sans-serif" textLength="14.6" lengthAdjust="spacingAndGlyphs">MN</text>
<rect x="1183" y="0" width="1" height="17" fill="#b8b8b8" shape-rendering="crispEdges"/>
<rect x="1184" y="0" width="1" height="17" fill="#fdfdfd" shape-rendering="crispEdges"/>
<path d="M1646,9.6 L1651.6,4.4" stroke="#2a62c8" stroke-width="2.2" stroke-linecap="round"/>
<circle cx="1654.3" cy="1.8" r="3.6" fill="#e8f0fb" stroke="#2a62c8" stroke-width="1.4"/>
<path d="M1671,8.5 a5,3.8 0 1 1 4.5,3.6 l-2.5,1.8 l0.3,-2.4 a4.5,3.6 0 0 1 -2.3,-3 z" fill="#f4f4f4" stroke="#b0b0b0" stroke-width="0.9"/>
<circle cx="1683.7" cy="1.6" r="8.8" fill="#dc2f1c"/>
<text x="1683.7" y="8" font-size="13" font-weight="bold" fill="#fff" text-anchor="middle" font-family="Liberation Serif, serif">1</text>
</g>
</svg></body></html>
